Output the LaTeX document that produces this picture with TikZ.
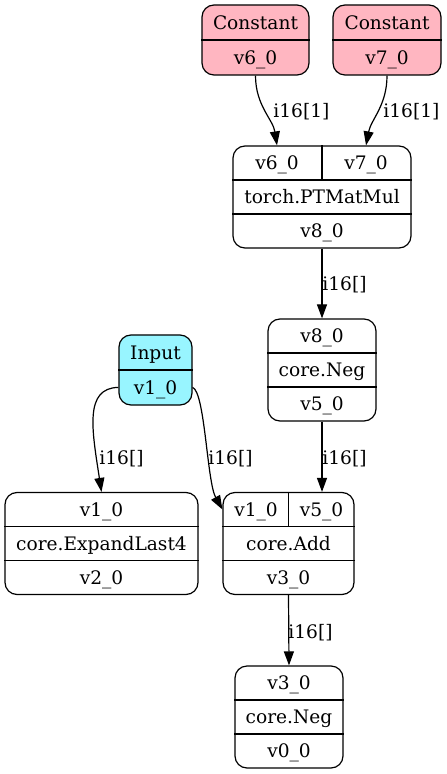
\documentclass[tikz,border=0pt]{standalone}
\usepackage{fontspec}
\setmainfont{DejaVu Serif}
\usetikzlibrary{arrows.meta,positioning}
\definecolor{constpink}{HTML}{FFB6C1}
\definecolor{inputcyan}{HTML}{98F5FF}

\begin{document}
\begin{tikzpicture}
    [
    x=0.5pt, y=-0.5pt,
    rec/.style = {draw, rectangle, rounded corners=6pt, line width=0.6pt, inner sep=0pt, minimum width=54pt, minimum height=51pt},
    small/.style = {rec, minimum height=35pt},
    txt/.style = {inner sep=0pt, text height=7.8pt, text depth=1pt, font=\fontsize{9.3}{11}\selectfont},
    lbl/.style = {txt, anchor=west, inner sep=1pt},
    sep/.style = {line width=0.6pt},
    arrow/.style = {-{Triangle[length=7pt, width=5pt]}, line width=0.6pt}
    ]
\useasboundingbox (0,0) rectangle (446,774);

% Nodes
    \node[small, fill=constpink, minimum width=53.5pt] (c6) at (255.5,40) {};
    \node[small, fill=constpink] (c7) at (387,40) {};
    \node[rec, minimum width=89pt] (mm) at (322,197) {};
    \node[rec] (neg1) at (322,370) {};
    \node[small, fill=inputcyan, minimum width=36.5pt] (inp) at (155.5,370) {};
    \node[rec, minimum width=96.5pt] (ex) at (101.5,543.5) {};
    \node[rec, minimum width=65.5pt] (add) at (288.5,543.5) {};
    \node[rec] (neg2) at (289,717) {};

% Separators
    \draw[sep] (c6.west) -- (c6.east);
    \draw[sep] (c7.west) -- (c7.east);
    \draw[sep] (inp.west) -- (inp.east);
    \foreach \r in {mm,neg1,ex,add,neg2} {
        \draw[sep] ([yshift=8.5pt]\r.west) -- ([yshift=8.5pt]\r.east);
        \draw[sep] ([yshift=-8.5pt]\r.west) -- ([yshift=-8.5pt]\r.east);
    }
    \draw[sep] (mm.north) -- ([yshift=8.5pt]mm.center);
    \draw[sep] (add.north) -- ([yshift=8.5pt]add.center);

% Texts
    \node[txt] (c6a) at ([yshift=8.7pt]c6.center) {Constant};
    \node[txt] (c6b) at ([yshift=-8.7pt]c6.center) {v6\_0};
    \node[txt] (c7a) at ([yshift=8.7pt]c7.center) {Constant};
    \node[txt] (c7b) at ([yshift=-8.7pt]c7.center) {v7\_0};
    \node[txt] (mmA) at ([xshift=-22.5pt, yshift=17pt]mm.center) {v6\_0};
    \node[txt] (mmB) at ([xshift=22pt, yshift=17pt]mm.center) {v7\_0};
    \node[txt] (mmop) at (mm.center) {torch.PTMatMul};
    \node[txt] (mmout) at ([yshift=-17pt]mm.center) {v8\_0};
    \node[txt] (neg1in) at ([yshift=17pt]neg1.center) {v8\_0};
    \node[txt] (neg1op) at (neg1.center) {core.Neg};
    \node[txt] (neg1out) at ([yshift=-17pt]neg1.center) {v5\_0};
    \node[txt] (inpa) at ([yshift=8.7pt]inp.center) {Input};
    \node[txt] (inpB) at ([yshift=-8.7pt]inp.center) {v1\_0};
    \node[txt] (exin) at ([yshift=17pt]ex.center) {v1\_0};
    \node[txt] (exop) at (ex.center) {core.ExpandLast4};
    \node[txt] (exout) at ([yshift=-17pt]ex.center) {v2\_0};
    \node[txt] (addA) at ([xshift=-16.25pt, yshift=17pt]add.center) {v1\_0};
    \node[txt] (addB) at ([xshift=16.5pt, yshift=17pt]add.center) {v5\_0};
    \node[txt] (addop) at (add.center) {core.Add};
    \node[txt] (addout) at ([yshift=-17pt]add.center) {v3\_0};
    \node[txt] (neg2in) at ([yshift=17pt]neg2.center) {v3\_0};
    \node[txt] (neg2op) at (neg2.center) {core.Neg};
    \node[txt] (neg2out) at ([yshift=-17pt]neg2.center) {v0\_0};

% Arrows
    \draw[arrow] (c6.south) .. controls +(0,30) and +(-4,-26) .. (mmA |- mm.north);
    \draw[arrow] (c7.south) .. controls +(0,30) and +(5,-26) .. (mmB |- mm.north);
    \draw[arrow] (mm.south) -- (neg1.north);
    \draw[arrow] (inp.west |- inpB) .. controls (84,388) and (92,430) .. (ex.north);
    \draw[arrow] (inp.east |- inpB) .. controls (205,392) and (207,482) .. (add.west |- addA);
    \draw[arrow] (neg1.south) -- (neg1.south |- add.north);
    \draw[arrow] (add.south) -- (neg2.north);

% Labels
    \node[lbl] (l1) at (271,111) {i16[1]};
    \node[lbl] (l2) at (381,111) {i16[1]};
    \node[lbl] (l3) at (320,284) {i16[]};
    \node[lbl] (l4) at (97,458) {i16[]};
    \node[lbl] (l5) at (206,458) {i16[]};
    \node[lbl] (l6) at (320,458) {i16[]};
    \node[lbl] (l7) at (286,632) {i16[]};

\end{tikzpicture}
\end{document}
